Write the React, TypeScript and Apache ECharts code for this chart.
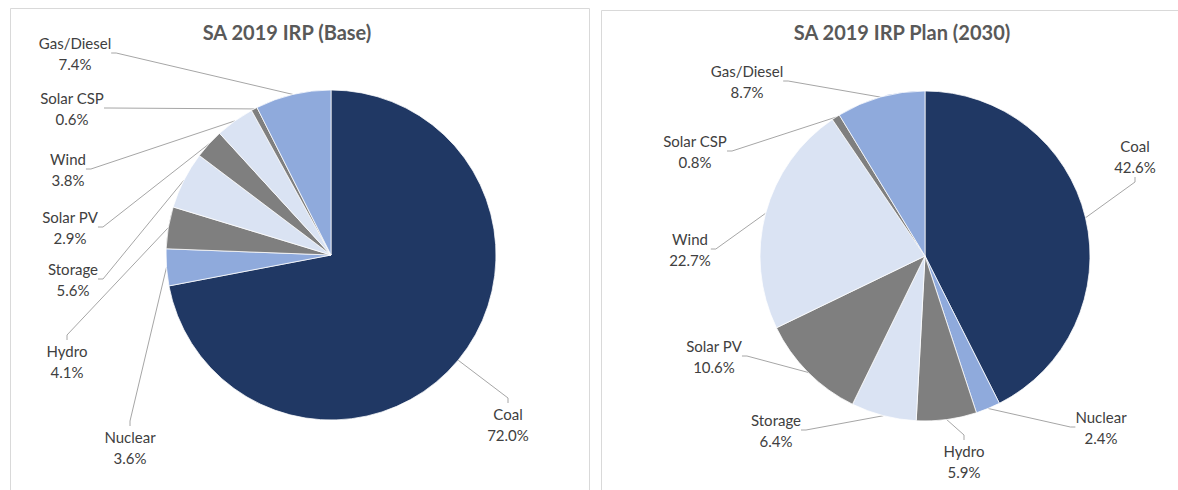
import React, { useEffect, useRef } from 'react';
import * as echarts from 'echarts';

const categories = ['Coal', 'Nuclear', 'Hydro', 'Storage', 'Solar PV', 'Wind', 'Solar CSP', 'Gas/Diesel'];
const baseValues = [72.0, 3.6, 4.1, 5.6, 2.9, 3.8, 0.6, 7.4];
const planValues = [42.6, 2.4, 5.9, 6.4, 10.6, 22.7, 0.8, 8.7];
const sliceColors = ['#203864', '#8faadc', '#7f7f7f', '#dae3f3', '#7f7f7f', '#dae3f3', '#7f7f7f', '#8faadc'];
const chartTitles = ['SA 2019 IRP (Base)', 'SA 2019 IRP Plan (2030)'];

// label centres in pixels (layout only)
const baseLabelPos = [[508, 424], [130, 447], [67, 361], [73, 279], [70, 227], [68, 169], [72, 108], [75, 53]];
const planLabelPos = [[1135, 156], [1101, 427], [964, 461], [776, 430], [714, 356], [690, 249], [695, 151], [747, 81]];

const FONT = 'Lato, "Open Sans", sans-serif';

function makeSeries(values: number[], center: number[], pos: number[][]) {
  return {
    type: 'pie',
    center,
    radius: 165,
    startAngle: 90,
    clockwise: true,
    silent: true,
    avoidLabelOverlap: false,
    data: categories.map((name, i) => ({
      name,
      value: values[i],
      itemStyle: { color: sliceColors[i] },
    })),
    itemStyle: { borderColor: '#ffffff', borderWidth: 0.75 },
    label: {
      show: true,
      position: 'outside',
      formatter: (p: any) => `${p.name}\n${Number(p.value).toFixed(1)}%`,
      color: '#404040',
      fontFamily: FONT,
      fontSize: 15,
      lineHeight: 21,
      align: 'center',
    },
    labelLine: {
      show: true,
      length: 10,
      length2: 5,
      lineStyle: { color: '#a6a6a6', width: 1 },
    },
    labelLayout: (params: any) => {
      const p = pos[params.dataIndex];
      return { x: p[0], y: p[1], align: 'center', verticalAlign: 'middle' };
    },
    emphasis: { disabled: true },
  };
}

export default function App() {
  const ref = useRef<HTMLDivElement>(null);
  useEffect(() => {
    if (!ref.current) return;
    const chart = echarts.init(ref.current, undefined, { renderer: 'svg' });
    chart.setOption({
      animation: false,
      backgroundColor: '#ffffff',
      title: [
        {
          text: chartTitles[0],
          left: 282,
          top: 17,
          textAlign: 'center',
          textStyle: { fontFamily: FONT, fontSize: 20, fontWeight: 'bold', color: '#595959' },
        },
        {
          text: chartTitles[1],
          left: 897,
          top: 17,
          textAlign: 'center',
          textStyle: { fontFamily: FONT, fontSize: 20, fontWeight: 'bold', color: '#595959' },
        },
      ],
      graphic: [
        {
          type: 'rect',
          shape: { x: 10.5, y: 8.5, width: 579, height: 520 },
          style: { fill: 'none', stroke: '#d9d9d9', lineWidth: 1 },
          silent: true,
        },
        {
          type: 'rect',
          shape: { x: 601.5, y: 10.5, width: 620, height: 520 },
          style: { fill: 'none', stroke: '#d9d9d9', lineWidth: 1 },
          silent: true,
        },
      ],
      series: [
        makeSeries(baseValues, [331, 255], baseLabelPos),
        makeSeries(planValues, [925, 256], planLabelPos),
      ],
    });
    return () => chart.dispose();
  }, []);
  return (
    <div
      ref={ref}
      style={{ position: 'fixed', left: 0, top: 0, width: 1178, height: 490, background: '#fff' }}
    />
  );
}
